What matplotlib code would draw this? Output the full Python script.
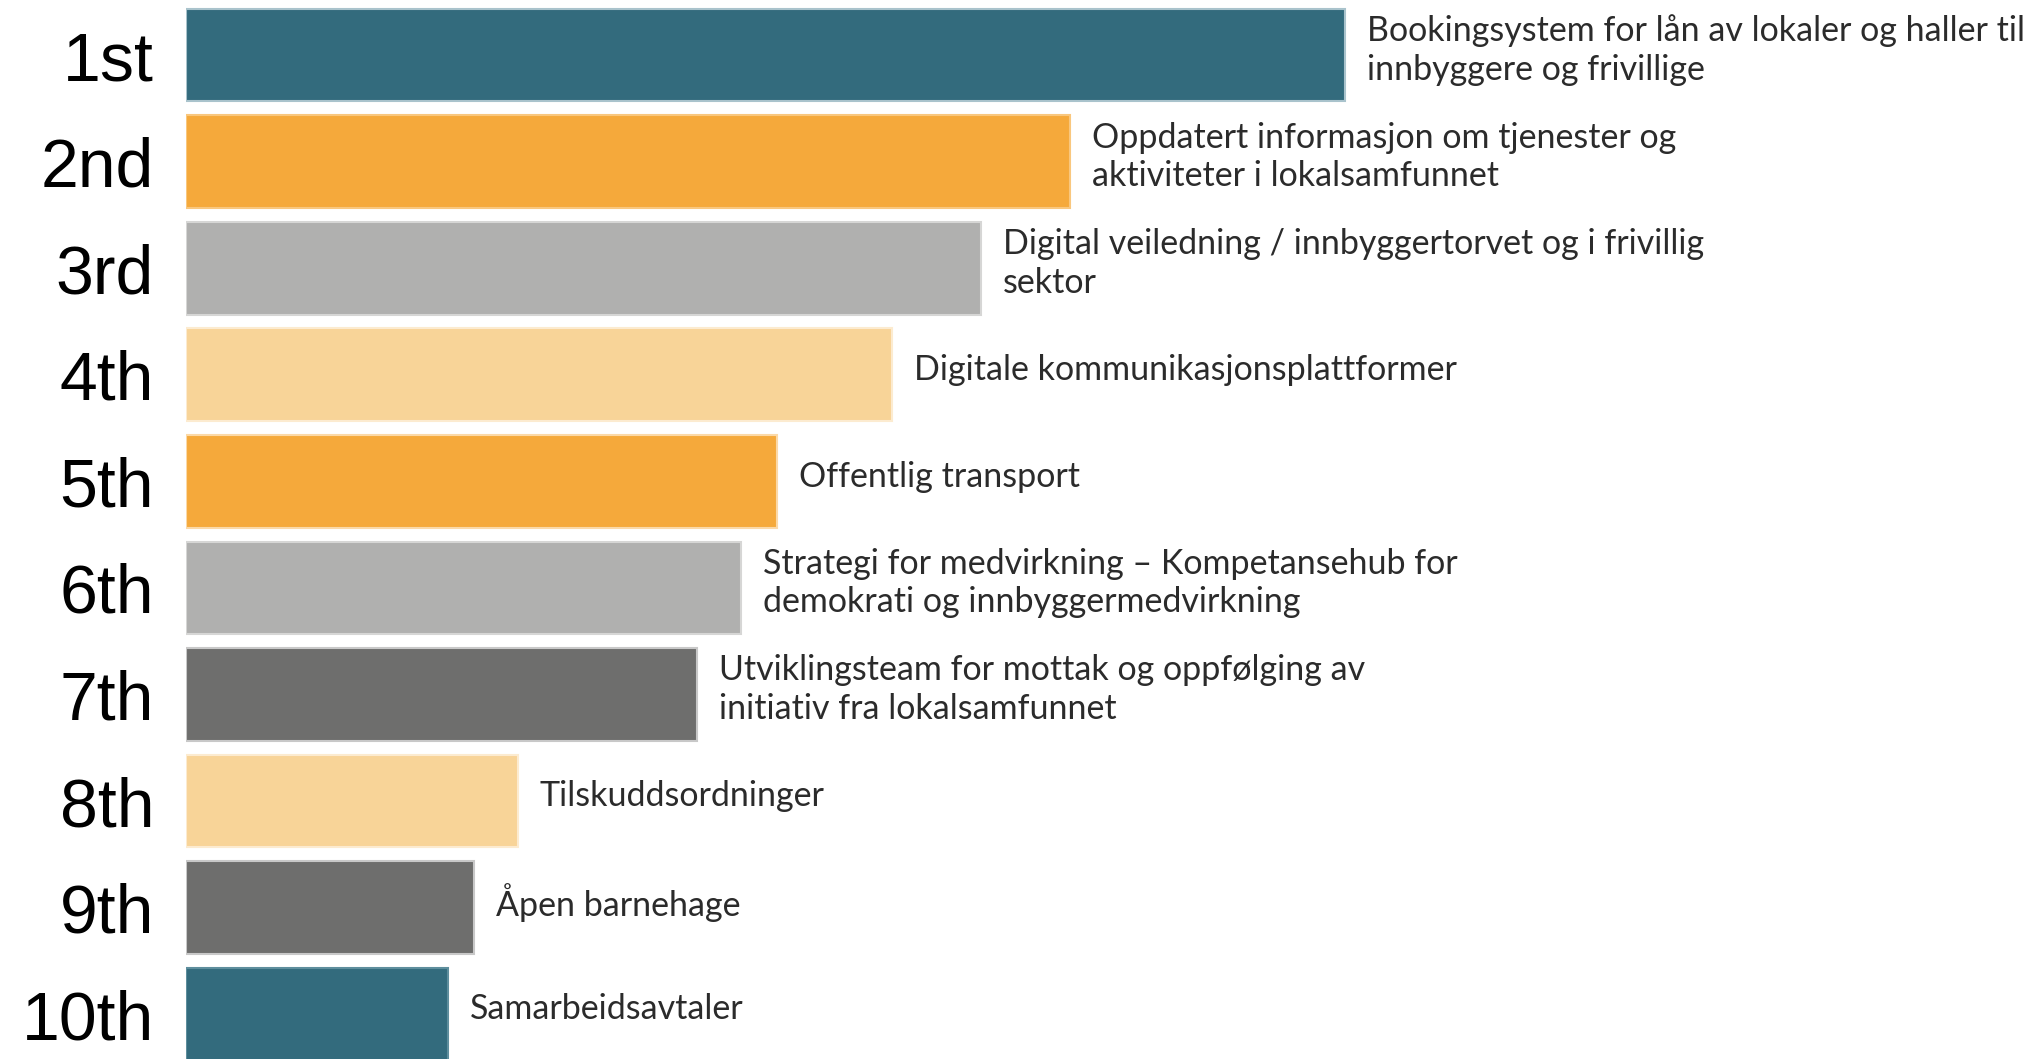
import matplotlib.pyplot as plt

# Ranked items (top to bottom)
ranks = ["1st", "2nd", "3rd", "4th", "5th", "6th", "7th", "8th", "9th", "10th"]
labels = [
    "Bookingsystem for lån av lokaler og haller til\ninnbyggere og frivillige",
    "Oppdatert informasjon om tjenester og\naktiviteter i lokalsamfunnet",
    "Digital veiledning / innbyggertorvet og i frivillig\nsektor",
    "Digitale kommunikasjonsplattformer",
    "Offentlig transport",
    "Strategi for medvirkning \u2013 Kompetansehub for\ndemokrati og innbyggermedvirkning",
    "Utviklingsteam for mottak og oppfølging av\ninitiativ fra lokalsamfunnet",
    "Tilskuddsordninger",
    "Åpen barnehage",
    "Samarbeidsavtaler",
]
scores = [11.59, 8.84, 7.95, 7.06, 5.91, 5.55, 5.11, 3.32, 2.88, 2.62]
colors = ["#336B7D", "#F5A93B", "#B0B0AF", "#F8D498", "#F5A93B",
          "#B0B0AF", "#6E6E6D", "#F8D498", "#6E6E6D", "#336B7D"]
edges = ["#A9C3CC", "#F9C77E", "#D6D6D5", "#FCEBD0", "#FBD9A8",
         "#D6D6D5", "#C8C8C8", "#FCEBD0", "#C8C8C8", "#5E8E9D"]

fig = plt.figure(figsize=(20.42, 10.59), dpi=100)
ax = fig.add_axes([186 / 2042, 0, 1 - 186 / 2042, 1])

y = list(range(len(ranks)))
ax.barh(y, scores, height=0.87, color=colors, edgecolor=edges, linewidth=1.5)

for i, (s, lab) in enumerate(zip(scores, labels)):
    ax.annotate(lab, (s, i), xytext=(15.5, 3.5), textcoords="offset points",
                va="center", ha="left", fontsize=24.5, family="Lato",
                color="#2b2b2b", linespacing=1.25)

ax.set_xlim(0, 18.56)
ax.set_ylim(9.42, -0.517)
ax.set_yticks(y)
ax.set_yticklabels(ranks, fontsize=49, family="Liberation Sans", color="black")
ax.tick_params(axis="y", length=0, pad=23)
ax.set_xticks([])
for sp in ax.spines.values():
    sp.set_visible(False)

fig.savefig("out.png", dpi=100)
